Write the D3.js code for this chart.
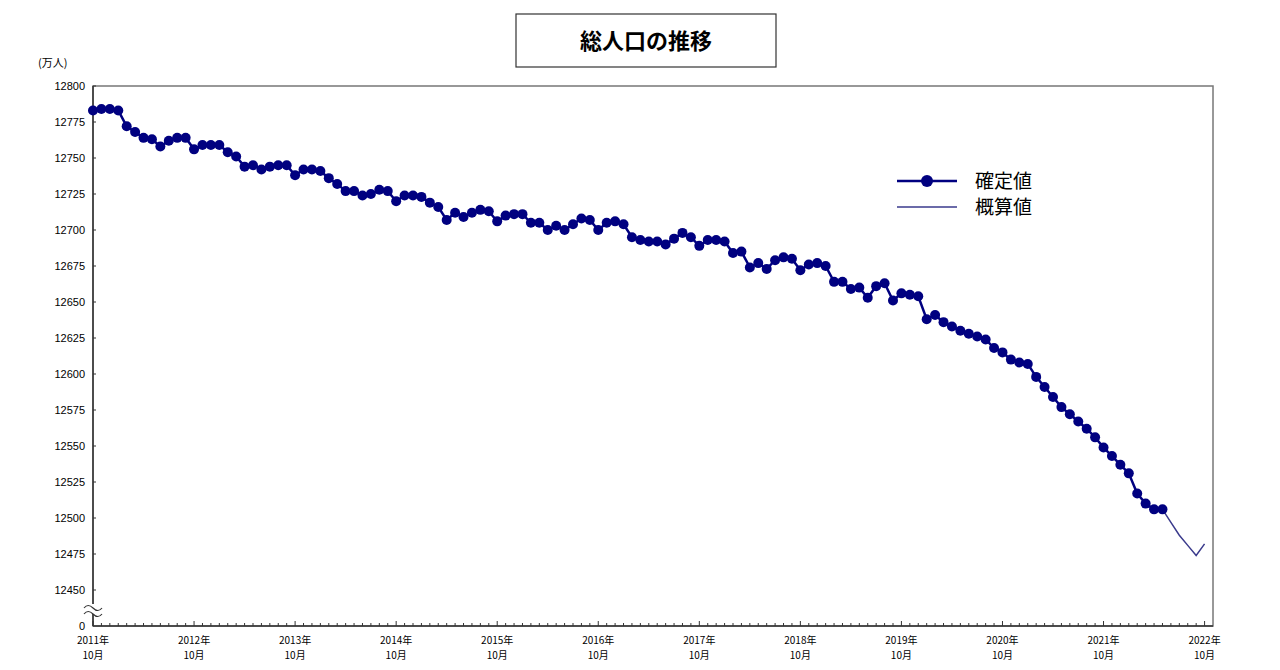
<!DOCTYPE html>
<html><head><meta charset="utf-8">
<script src="https://cdn.jsdelivr.net/npm/d3@7"></script>
<style>body{margin:0;background:#fff;font-family:"Noto Sans CJK JP","Noto Sans",sans-serif}</style>
</head><body><svg id="c" width="1280" height="670"></svg>
<script>
// confirmed values, monthly from 2011-10
const confirmed = [12783,12784,12784,12783,12772,12768,12764,12763,12758,12762,12764,12764,
12756,12759,12759,12759,12754,12751,12744,12745,12742,12744,12745,12745,
12738,12742,12742,12741,12736,12732,12727,12727,12724,12725,12728,12727,
12720,12724,12724,12723,12719,12716,12707,12712,12709,12712,12714,12713,
12706,12710,12711,12711,12705,12705,12700,12703,12700,12704,12708,12707,
12700,12705,12706,12704,12695,12693,12692,12692,12690,12694,12698,12695,
12689,12693,12693,12692,12684,12685,12674,12677,12673,12679,12681,12680,
12672,12676,12677,12675,12664,12664,12659,12660,12653,12661,12663,12651,
12656,12655,12654,12638,12641,12636,12633,12630,12628,12626,12624,12618,
12615,12610,12608,12607,12598,12591,12584,12577,12572,12567,12562,12556,
12549,12543,12537,12531,12517,12510,12506,12506];
// estimated values, starting at the last confirmed month
const estimated = [12506,12497,12488,12481,12474,12482];
const yTicks = [12800,12775,12750,12725,12700,12675,12650,12625,12600,12575,12550,12525,12500,12475,12450];
const yearLabels = ["2011年","2012年","2013年","2014年","2015年","2016年","2017年","2018年","2019年","2020年","2021年","2022年"];

const svg = d3.select("#c");
const L=93,R=1213,T=86,B=626;
const x = d3.scaleLinear().domain([0,133]).range([L,R]);
const y = d3.scaleLinear().domain([12425,12800]).range([B,T]);
const navy="#000080";

// title
svg.append("rect").attr("x",516).attr("y",14).attr("width",260).attr("height",53).attr("fill","none").attr("stroke","#333").attr("stroke-width",1.2);
svg.append("text").attr("x",646).attr("y",49).attr("text-anchor","middle").attr("font-size",22).attr("font-weight","bold").text("総人口の推移");
svg.append("text").attr("x",38).attr("y",67).attr("font-size",11).text("(万人)");

// frame
svg.append("rect").attr("x",L).attr("y",T).attr("width",R-L).attr("height",B-T).attr("fill","none").attr("stroke","#777").attr("stroke-width",1.5);
svg.append("line").attr("x1",L).attr("x2",L).attr("y1",T).attr("y2",B).attr("stroke","#333").attr("stroke-width",1.5);
svg.append("line").attr("x1",L).attr("x2",R).attr("y1",B).attr("y2",B).attr("stroke","#333").attr("stroke-width",1.5);

// y axis
const ya = svg.append("g");
yTicks.forEach(v=>{
  ya.append("line").attr("x1",L).attr("x2",L+3).attr("y1",y(v)).attr("y2",y(v)).attr("stroke","#333");
  ya.append("text").attr("x",L-8).attr("y",y(v)+4).attr("text-anchor","end").attr("font-size",11).attr("font-family","Liberation Sans, Arial").text(v);
});
ya.append("text").attr("x",L-8).attr("y",B+4).attr("text-anchor","end").attr("font-size",11).attr("font-family","Liberation Sans, Arial").text("0");
// break mark
const bm = svg.append("g");
bm.append("rect").attr("x",L-9).attr("y",604).attr("width",18).attr("height",10).attr("fill","#fff");
[606,612].forEach(yy=>bm.append("path").attr("d",`M${L-9},${yy+2} q4,-5 9,0 t9,0`).attr("fill","none").attr("stroke","#333").attr("stroke-width",1.2));

// x ticks
d3.range(0,133).forEach(i=>{
  svg.append("line").attr("x1",x(i)).attr("x2",x(i)).attr("y1",B).attr("y2",B-(i%12===0?5:3)).attr("stroke","#333");
});
yearLabels.forEach((t,k)=>{
  const g=svg.append("text").attr("x",x(k*12)).attr("text-anchor","middle").attr("font-size",10);
  g.append("tspan").attr("x",x(k*12)).attr("y",B+18).text(t);
  g.append("tspan").attr("x",x(k*12)).attr("y",B+33).text("10月");
});

// series
const line = d3.line().x(d=>x(d[0])).y(d=>y(d[1]));
const off = confirmed.length-1;
svg.append("path").datum(estimated.map((v,i)=>[off+i,v])).attr("d",line).attr("fill","none").attr("stroke","#3a3a8c").attr("stroke-width",1.5);
svg.append("path").datum(confirmed.map((v,i)=>[i,v])).attr("d",line).attr("fill","none").attr("stroke",navy).attr("stroke-width",2.5);
svg.selectAll("circle.p").data(confirmed).enter().append("circle").attr("cx",(d,i)=>x(i)).attr("cy",d=>y(d)).attr("r",5).attr("fill",navy);

// legend
svg.append("line").attr("x1",897).attr("x2",957).attr("y1",181).attr("y2",181).attr("stroke",navy).attr("stroke-width",2.5);
svg.append("circle").attr("cx",927).attr("cy",181).attr("r",6).attr("fill",navy);
svg.append("text").attr("x",975).attr("y",188).attr("font-size",19).text("確定値");
svg.append("line").attr("x1",897).attr("x2",957).attr("y1",207).attr("y2",207).attr("stroke","#3a3a8c").attr("stroke-width",1.5);
svg.append("text").attr("x",975).attr("y",214).attr("font-size",19).text("概算値");
</script></body></html>
